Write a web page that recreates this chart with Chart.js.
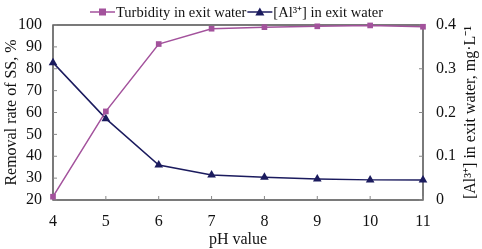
<!DOCTYPE html>
<html>
<head>
<meta charset="utf-8">
<script src="https://cdn.jsdelivr.net/npm/chart.js@4"></script>
<style>
  html, body { margin: 0; padding: 0; background: #fff; }
  #wrap { width: 482px; height: 249px; }
</style>
</head>
<body>
<div id="wrap"><canvas id="chart-ph"></canvas></div>
<script>
// values
const phLabels = ['4', '5', '6', '7', '8', '9', '10', '11'];
const turbidity = [21.5, 60.5, 91.3, 98.3, 99.0, 99.4, 99.8, 99.2];   // left axis, %
const aluminium = [0.314, 0.186, 0.080, 0.057, 0.052, 0.048, 0.046, 0.046]; // right axis, mg/L

const pink = '#a3529c';
const navy = '#1b1b5e';
const serif = "'Liberation Serif', 'Times New Roman', serif";
const rightTitle = '[Al\u00B3\u207A] in exit water, mg\u00B7L\u207B\u00B9';

// frame round the plot + small inside tick marks + right title (reads bottom to top)
const framePlugin = {
  id: 'frame',
  beforeDatasetsDraw(chart) {
    const { ctx, chartArea: a, scales } = chart;
    ctx.save();
    ctx.strokeStyle = '#333';
    ctx.lineWidth = 1.3;
    ctx.strokeRect(a.left, a.top, a.right - a.left, a.bottom - a.top);
    ctx.lineWidth = 1;
    ctx.strokeStyle = '#888';
    ctx.beginPath();
    phLabels.forEach((l, i) => {
      const x = scales.x.getPixelForValue(i);
      ctx.moveTo(x, a.bottom); ctx.lineTo(x, a.bottom - 4);
    });
    scales.y.ticks.forEach(t => {
      const y = scales.y.getPixelForValue(t.value);
      ctx.moveTo(a.left, y); ctx.lineTo(a.left + 4, y);
    });
    scales.y1.ticks.forEach(t => {
      const y = scales.y1.getPixelForValue(t.value);
      ctx.moveTo(a.right, y); ctx.lineTo(a.right - 4, y);
    });
    ctx.stroke();

    ctx.translate(471, (a.top + a.bottom) / 2);
    ctx.rotate(-Math.PI / 2);
    ctx.font = '16px ' + serif;
    ctx.fillStyle = '#111';
    ctx.textAlign = 'center';
    ctx.textBaseline = 'middle';
    ctx.fillText(rightTitle, 0, 0);
    ctx.restore();
  }
};

// legend drawn as line + marker + text, like the original
const legendPlugin = {
  id: 'lineLegend',
  afterDraw(chart) {
    const ctx = chart.ctx;
    const y = 12;
    const items = [
      { text: 'Turbidity in exit water', color: pink, style: 'rect' },
      { text: '[Al\u00B3\u207A] in exit water', color: navy, style: 'triangle' }
    ];
    ctx.save();
    ctx.font = '14.5px ' + serif;
    ctx.textBaseline = 'middle';
    let x0 = 90;
    items.forEach(it => {
      ctx.strokeStyle = it.color;
      ctx.fillStyle = it.color;
      ctx.lineWidth = 1.5;
      ctx.beginPath();
      ctx.moveTo(x0, y); ctx.lineTo(x0 + 25, y);
      ctx.stroke();
      const cx = x0 + 12.5;
      if (it.style === 'rect') {
        ctx.fillRect(cx - 3.5, y - 3.5, 7, 7);
      } else {
        ctx.beginPath();
        ctx.moveTo(cx, y - 4.5); ctx.lineTo(cx + 4.5, y + 3.5); ctx.lineTo(cx - 4.5, y + 3.5);
        ctx.closePath(); ctx.fill();
      }
      ctx.fillStyle = '#111';
      ctx.fillText(it.text, x0 + 26, y + 1);
      x0 += 26 + ctx.measureText(it.text).width + 1;
    });
    ctx.restore();
  }
};

const ctx = document.getElementById('chart-ph').getContext('2d');
new Chart(ctx, {
  type: 'line',
  data: {
    labels: phLabels,
    datasets: [{
      label: 'Turbidity in exit water',
      data: turbidity,
      yAxisID: 'y',
      borderColor: pink,
      backgroundColor: pink,
      borderWidth: 1.5,
      pointStyle: 'rect',
      pointRadius: 4,
      pointBorderWidth: 0,
      clip: false
    }, {
      label: '[Al3+] in exit water',
      data: aluminium,
      yAxisID: 'y1',
      borderColor: navy,
      backgroundColor: navy,
      borderWidth: 1.5,
      pointStyle: 'triangle',
      pointRadius: 5,
      pointBorderWidth: 0,
      clip: false
    }]
  },
  options: {
    responsive: true,
    maintainAspectRatio: false,
    animation: false,
    layout: { padding: { top: 25 } },
    plugins: { legend: { display: false }, tooltip: { enabled: false } },
    scales: {
      x: {
        type: 'category',
        offset: false,
        grid: { display: false },
        border: { display: false },
        ticks: { color: '#111', font: { family: serif, size: 16 }, padding: 4, maxRotation: 0, autoSkip: false },
        title: { display: true, text: 'pH value', color: '#111', font: { family: serif, size: 16 }, padding: { top: 0, bottom: 0 } },
        afterFit(scale) { scale.height = 49; }
      },
      y: {
        position: 'left',
        min: 20, max: 100,
        grid: { display: false },
        border: { display: false },
        ticks: { stepSize: 10, autoSkip: false, color: '#111', font: { family: serif, size: 16 }, padding: 3 },
        title: { display: true, text: 'Removal rate of SS, %', color: '#111', font: { family: serif, size: 16 }, padding: { top: 2, bottom: 0 } },
        afterFit(scale) { scale.width = 53; }
      },
      y1: {
        position: 'right',
        min: 0, max: 0.4,
        grid: { display: false },
        border: { display: false },
        ticks: {
          stepSize: 0.1, autoSkip: false, color: '#111', font: { family: serif, size: 16 }, padding: 5,
          callback: v => v === 0 ? '0' : v.toFixed(1)
        },
        afterFit(scale) { scale.width = 59; }
      }
    }
  },
  plugins: [framePlugin, legendPlugin]
});
</script>
</body>
</html>
